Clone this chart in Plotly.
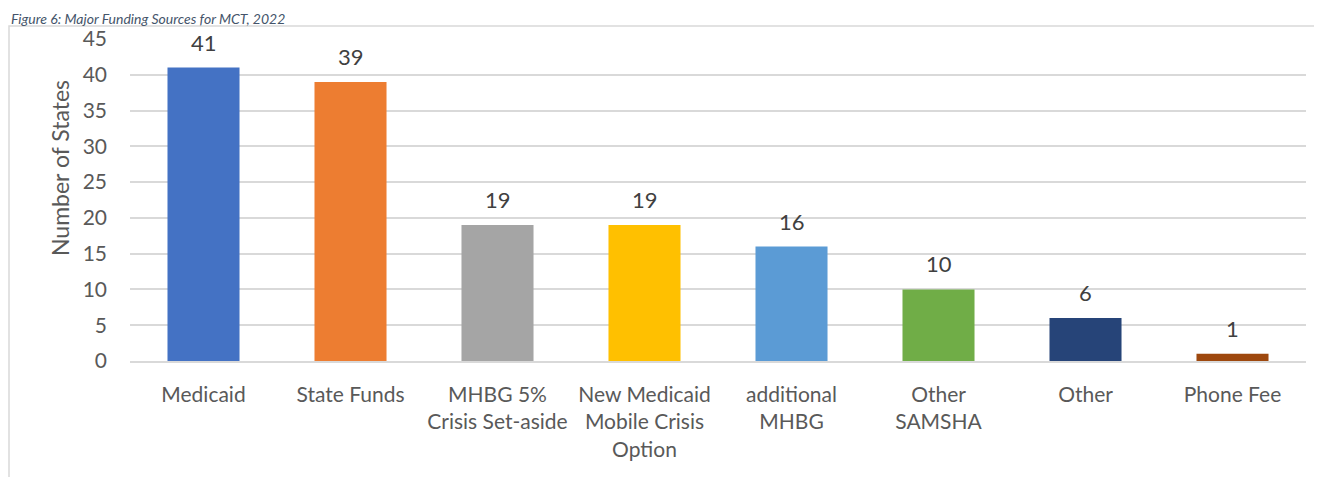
import plotly.graph_objects as go

categories = ["Medicaid", "State Funds", "MHBG 5%<br>Crisis Set-aside",
              "New Medicaid<br>Mobile Crisis<br>Option", "additional<br>MHBG",
              "Other<br>SAMSHA", "Other", "Phone Fee"]
values = [41, 39, 19, 19, 16, 10, 6, 1]
colors = ["#4472C4", "#ED7D31", "#A5A5A5", "#FFC000", "#5B9BD5", "#70AD47", "#264478", "#9E480E"]
y_ticks = [0, 5, 10, 15, 20, 25, 30, 35, 40, 45]
title_text = "Figure 6: Major Funding Sources for MCT, 2022"
y_title = "Number of States"

FONT = "Lato, Carlito, Calibri, sans-serif"
TXT = "#595959"

fig = go.Figure(go.Bar(x=categories, y=values, marker=dict(color=colors, line=dict(width=0))))

for c, v in zip(categories, values):
    fig.add_annotation(x=c, y=v, text=str(v), showarrow=False, yanchor="bottom",
                       yshift=10, font=dict(family=FONT, size=22, color="#404040"))

# page body has an 8px margin
W, H = 1314, 469
L, R, T, B = 122, 16, 31, 116
pw, ph = W - L - R, H - T - B

fig.add_annotation(xref="paper", yref="paper", x=(1 - L) / pw, y=(H - B) / ph,
                   xanchor="left", yanchor="top", text="<i>" + title_text + "</i>",
                   showarrow=False, font=dict(family=FONT, size=14, color="#44546A"))

# y-axis title (placed off-centre, as in the original)
fig.add_annotation(xref="paper", yref="paper", x=(52 - L) / pw, y=(353 - 160) / ph,
                   xanchor="center", yanchor="middle", textangle=-90, text=y_title,
                   showarrow=False, font=dict(family=FONT, size=23, color=TXT))

fig.add_shape(type="rect", xref="paper", yref="paper",
              x0=(1 - L) / pw, x1=1.1, y0=-0.6, y1=(H - B - 18) / ph,
              line=dict(color="#D9D9D9", width=1.5), fillcolor="rgba(0,0,0,0)", layer="below")

fig.update_layout(
    width=W, height=H,
    margin=dict(l=L, r=R, t=T, b=B, pad=0),
    paper_bgcolor="white", plot_bgcolor="white",
    bargap=0.51, showlegend=False,
    font=dict(family=FONT, size=22, color=TXT),
    xaxis=dict(showgrid=False, showline=True, linecolor="#D9D9D9", linewidth=1.5,
               ticks="", tickfont=dict(family=FONT, size=21, color=TXT), ticklabelstandoff=14),
    yaxis=dict(range=[0, 45], tickvals=y_ticks, showgrid=True, gridcolor="#D9D9D9", gridwidth=1.5,
               zeroline=False, ticks="", tickfont=dict(family=FONT, size=21, color=TXT),
               ticklabelstandoff=22),
)

fig.write_html("out.html")
